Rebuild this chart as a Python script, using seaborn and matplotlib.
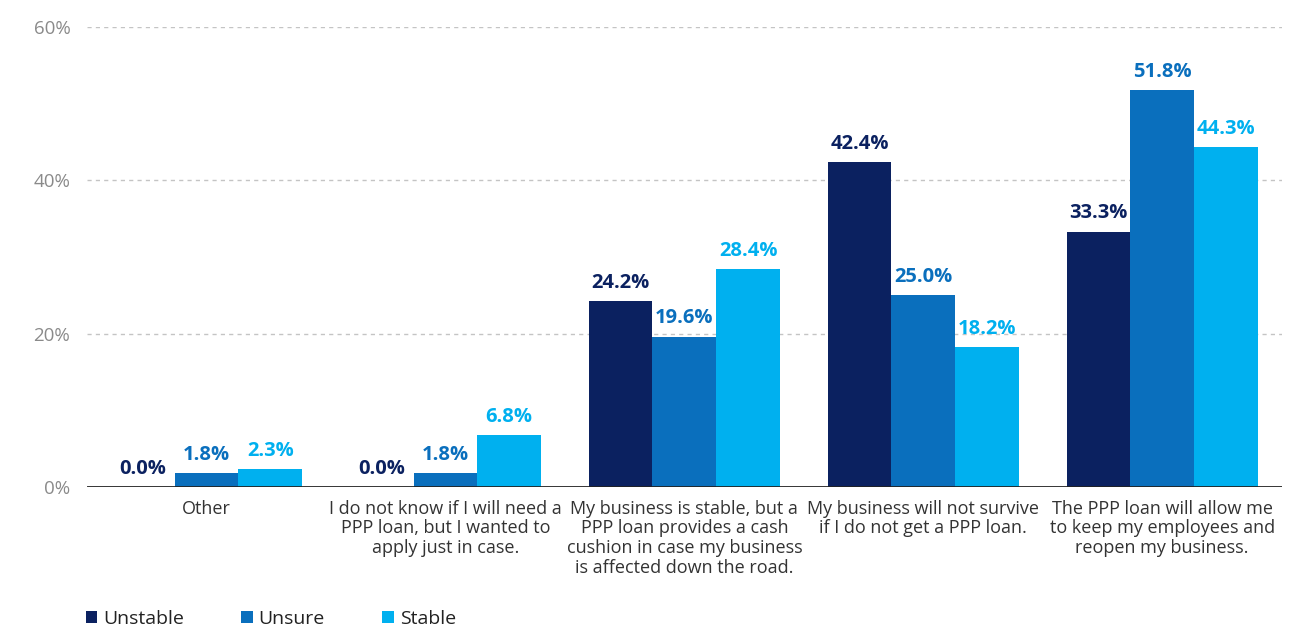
import matplotlib
matplotlib.use("Agg")
import matplotlib.pyplot as plt
import seaborn as sns
import pandas as pd

categories = [
    "Other",
    "I do not know if I will need a\nPPP loan, but I wanted to\napply just in case.",
    "My business is stable, but a\nPPP loan provides a cash\ncushion in case my business\nis affected down the road.",
    "My business will not survive\nif I do not get a PPP loan.",
    "The PPP loan will allow me\nto keep my employees and\nreopen my business.",
]
groups = ["Unstable", "Unsure", "Stable"]
unstable = [0.0, 0.0, 24.2, 42.4, 33.3]
unsure = [1.8, 1.8, 19.6, 25.0, 51.8]
stable = [2.3, 6.8, 28.4, 18.2, 44.3]
y_ticks = [0, 20, 40, 60]

colors = {"Unstable": "#0b2160", "Unsure": "#0a6fbd", "Stable": "#00b0ef"}

rows = []
for g, vals in zip(groups, [unstable, unsure, stable]):
    for c, v in zip(categories, vals):
        rows.append({"category": c, "group": g, "value": v})
df = pd.DataFrame(rows)

sns.set_theme(style="white")
plt.rcParams["font.family"] = ["Open Sans", "DejaVu Sans"]

fig = plt.figure(figsize=(13.1, 6.28), dpi=100)
ax = fig.add_axes([0.0664, 0.2245, 0.912, 0.7325])

sns.barplot(data=df, x="category", y="value", hue="group", order=categories,
            hue_order=groups, palette=colors, width=0.8, saturation=1,
            edgecolor="none", linewidth=0, legend=True, ax=ax)

for cont, g in zip(ax.containers, groups):
    ax.bar_label(cont, labels=[f"{v:.1f}%" for v in cont.datavalues],
                 padding=6, color=colors[g], fontsize=14.5, fontweight="bold")

ax.set_xlim(-0.5, 4.5)
ax.set_ylim(0, 60)
ax.set_yticks(y_ticks)
ax.set_yticklabels([f"{t}%" for t in y_ticks], color="#8a8a8a", fontsize=13.5)
ax.tick_params(axis="y", length=0, pad=12)
ax.tick_params(axis="x", length=0, pad=9)
for lbl in ax.get_xticklabels():
    lbl.set_fontsize(13)
    lbl.set_color("#333333")
    lbl.set_linespacing(1.12)
ax.set_xlabel("")
ax.set_ylabel("")

for t in y_ticks[1:]:
    ax.axhline(t, color="#c4c4c4", linestyle=(0, (3, 3)), linewidth=1, zorder=0)
ax.axhline(0, color="#222222", linewidth=2, zorder=3)

for s in ax.spines.values():
    s.set_visible(False)

ax.legend(loc="center left", bbox_to_anchor=(-0.011, -0.287), ncol=3, frameon=False,
          fontsize=14, handlelength=0.6, handleheight=0.6, handletextpad=0.3,
          columnspacing=2.95, borderpad=0.1, labelcolor="#222222")

fig.savefig("out.png", dpi=100, facecolor="white")
